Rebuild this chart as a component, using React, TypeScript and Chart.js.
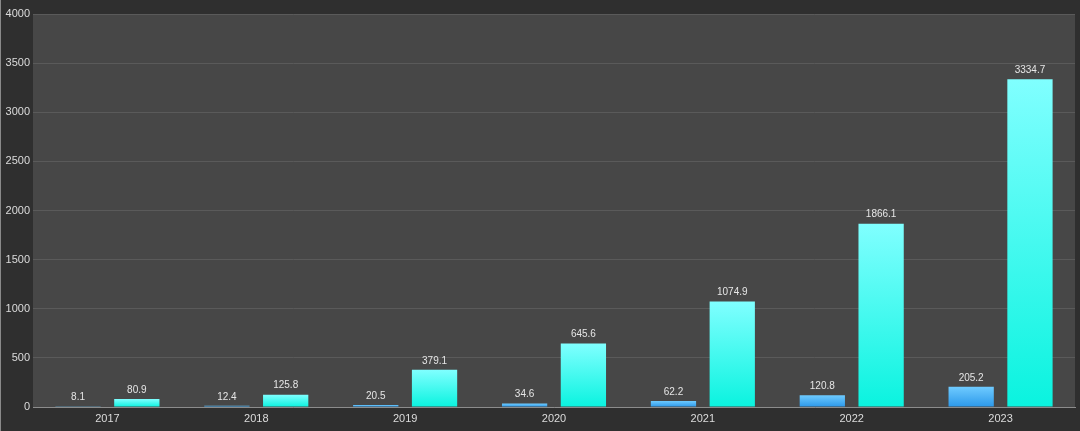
import React, { useEffect, useRef } from "react";
import { Chart, registerables } from "chart.js";

Chart.register(...registerables);

const categories = ["2017", "2018", "2019", "2020", "2021", "2022", "2023"];
const seriesA = [8.1, 12.4, 20.5, 34.6, 62.2, 120.8, 205.2];
const seriesB = [80.9, 125.8, 379.1, 645.6, 1074.9, 1866.1, 3334.7];
const yTicks = [0, 500, 1000, 1500, 2000, 2500, 3000, 3500, 4000];

function barGradient(ctx: any, top: string, bottom: string) {
  const chart = ctx.chart;
  const y = chart.scales?.y;
  if (!y || !chart.chartArea || ctx.raw == null) return bottom;
  const yTop = y.getPixelForValue(ctx.raw);
  const yBase = y.getPixelForValue(0);
  if (!isFinite(yTop) || !isFinite(yBase) || yBase - yTop < 1) return top;
  const g = chart.ctx.createLinearGradient(0, yTop, 0, yBase);
  g.addColorStop(0, top);
  g.addColorStop(1, bottom);
  return g;
}

const plotBg = {
  id: "plotBg",
  beforeDraw(chart: any) {
    const { ctx, chartArea } = chart;
    ctx.save();
    ctx.fillStyle = "#2f2f2f";
    ctx.fillRect(0, 0, chart.width, chart.height);
    ctx.fillStyle = "#474747";
    ctx.fillRect(chartArea.left, chartArea.top, chartArea.right - chartArea.left, chartArea.bottom - chartArea.top);
    ctx.fillStyle = "#8a8a8a";
    ctx.fillRect(0, 0, 1, chart.height);
    ctx.restore();
  },
};

const valueLabels = {
  id: "valueLabels",
  afterDatasetsDraw(chart: any) {
    const { ctx } = chart;
    ctx.save();
    ctx.font = "10px 'Liberation Sans', Arial, sans-serif";
    ctx.fillStyle = "#e6e6e6";
    ctx.textAlign = "center";
    ctx.textBaseline = "bottom";
    chart.data.datasets.forEach((ds: any, i: number) => {
      const meta = chart.getDatasetMeta(i);
      meta.data.forEach((bar: any, j: number) => {
        ctx.fillText(String(ds.data[j]), bar.x, bar.y - 4);
      });
    });
    ctx.restore();
  },
};

export default function App() {
  const ref = useRef<HTMLCanvasElement | null>(null);
  useEffect(() => {
    document.body.style.margin = "0";
    document.body.style.background = "#2f2f2f";
    if (!ref.current) return;
    const chart = new Chart(ref.current, {
      type: "bar",
      data: {
        labels: categories,
        datasets: [
          {
            label: "A",
            data: seriesA,
            backgroundColor: (c: any) => barGradient(c, "#6fcbff", "#2b98ea"),
            borderWidth: 0,
            categoryPercentage: 0.79,
            barPercentage: 0.77,
          },
          {
            label: "B",
            data: seriesB,
            backgroundColor: (c: any) => barGradient(c, "#80ffff", "#0af3df"),
            borderWidth: 0,
            categoryPercentage: 0.79,
            barPercentage: 0.77,
          },
        ],
      },
      options: {
        responsive: false,
        animation: false,
        devicePixelRatio: 1,
        layout: { padding: { top: 14, right: 5, left: 0, bottom: 0 } },
        plugins: {
          legend: { display: false },
          title: { display: false },
          tooltip: { enabled: false },
        },
        scales: {
          x: {
            grid: { display: false, drawTicks: false },
            border: { display: true, color: "#8c8c8c", width: 1 },
            ticks: {
              color: "#dcdcdc",
              font: { size: 11, family: "'Liberation Sans', Arial, sans-serif" },
              padding: 5,
            },
            afterFit: (s: any) => {
              s.height = 24;
            },
          },
          y: {
            min: 0,
            max: 4000,
            afterBuildTicks: (s: any) => {
              s.ticks = yTicks.map((v) => ({ value: v }));
            },
            grid: { color: "#5a5a5a", drawTicks: false },
            border: { display: false },
            ticks: {
              color: "#dcdcdc",
              font: { size: 11, family: "'Liberation Sans', Arial, sans-serif" },
              padding: 3,
              callback: (v: any) => String(v),
            },
            afterFit: (s: any) => {
              s.width = 33;
            },
          },
        },
      },
      plugins: [plotBg, valueLabels],
    });
    return () => chart.destroy();
  }, []);
  return <canvas ref={ref} width={1080} height={431} style={{ display: "block" }} />;
}
